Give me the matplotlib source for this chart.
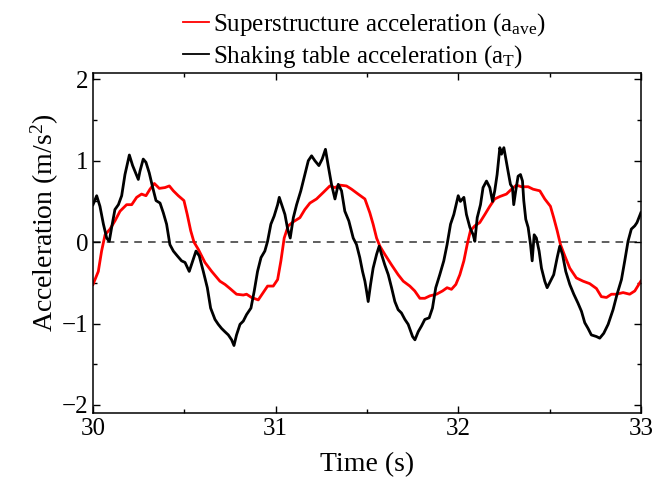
import matplotlib

matplotlib.use("Agg")
import matplotlib.pyplot as plt
from matplotlib.ticker import MultipleLocator

plt.rcParams["font.family"] = ["Liberation Serif", "DejaVu Serif"]
plt.rcParams["mathtext.fontset"] = "custom"
plt.rcParams["mathtext.rm"] = "Liberation Serif"
plt.rcParams["mathtext.it"] = "Liberation Serif:italic"

# superstructure acceleration (red)
t_ave = [
    30.000, 30.029, 30.047, 30.066, 30.093, 30.120, 30.148, 30.184, 30.212, 30.239,
    30.266, 30.290, 30.312, 30.336, 30.363, 30.394, 30.418, 30.440, 30.467, 30.498,
    30.516, 30.535, 30.553, 30.577, 30.613, 30.650, 30.695, 30.723, 30.750, 30.786,
    30.823, 30.841, 30.868, 30.905, 30.932, 30.956, 30.987, 31.011, 31.029, 31.047,
    31.069, 31.097, 31.133, 31.160, 31.188, 31.224, 31.261, 31.297, 31.325, 31.352,
    31.388, 31.416, 31.452, 31.489, 31.516, 31.534, 31.553, 31.571, 31.598, 31.635,
    31.671, 31.699, 31.735, 31.762, 31.790, 31.817, 31.845, 31.881, 31.914, 31.939,
    31.963, 31.987, 32.009, 32.031, 32.049, 32.067, 32.091, 32.118, 32.146, 32.173,
    32.200, 32.228, 32.264, 32.292, 32.319, 32.346, 32.383, 32.410, 32.447, 32.474,
    32.505, 32.523, 32.542, 32.560, 32.584, 32.611, 32.647, 32.684, 32.720, 32.757,
    32.784, 32.812, 32.839, 32.866, 32.903, 32.939, 32.967, 33.000,
]
a_ave = [
    -0.52, -0.36, -0.11, 0.09, 0.16, 0.26, 0.38, 0.46, 0.46, 0.55,
    0.59, 0.57, 0.65, 0.72, 0.66, 0.67, 0.69, 0.63, 0.57, 0.51,
    0.34, 0.14, 0.00, -0.09, -0.25, -0.36, -0.48, -0.52, -0.57, -0.64,
    -0.65, -0.64, -0.68, -0.71, -0.62, -0.54, -0.54, -0.46, -0.23, 0.05,
    0.20, 0.25, 0.30, 0.40, 0.48, 0.53, 0.61, 0.69, 0.67, 0.70,
    0.69, 0.65, 0.59, 0.53, 0.36, 0.22, 0.05, -0.05, -0.15, -0.28,
    -0.40, -0.48, -0.54, -0.60, -0.69, -0.69, -0.66, -0.64, -0.60, -0.56,
    -0.58, -0.52, -0.40, -0.23, -0.03, 0.14, 0.20, 0.24, 0.34, 0.44,
    0.53, 0.56, 0.59, 0.65, 0.70, 0.68, 0.68, 0.65, 0.63, 0.53,
    0.44, 0.30, 0.14, -0.03, -0.17, -0.32, -0.44, -0.48, -0.51, -0.57,
    -0.67, -0.68, -0.64, -0.64, -0.62, -0.64, -0.60, -0.48,
]

# shaking table acceleration (black)
t_T = [
    30.000, 30.020, 30.038, 30.057, 30.075, 30.089, 30.102, 30.120, 30.139, 30.157,
    30.175, 30.199, 30.217, 30.230, 30.248, 30.257, 30.275, 30.290, 30.308, 30.327,
    30.345, 30.367, 30.385, 30.403, 30.421, 30.440, 30.462, 30.485, 30.504, 30.527,
    30.546, 30.564, 30.582, 30.604, 30.626, 30.644, 30.668, 30.686, 30.704, 30.722,
    30.741, 30.759, 30.772, 30.786, 30.805, 30.823, 30.841, 30.865, 30.883, 30.901,
    30.920, 30.941, 30.956, 30.974, 30.992, 31.011, 31.020, 31.036, 31.051, 31.066,
    31.080, 31.097, 31.115, 31.138, 31.160, 31.179, 31.197, 31.215, 31.237, 31.255,
    31.273, 31.288, 31.306, 31.325, 31.343, 31.361, 31.379, 31.401, 31.425, 31.443,
    31.461, 31.476, 31.489, 31.498, 31.507, 31.520, 31.534, 31.553, 31.567, 31.580,
    31.598, 31.617, 31.635, 31.653, 31.671, 31.689, 31.708, 31.726, 31.750, 31.763,
    31.781, 31.799, 31.817, 31.841, 31.859, 31.877, 31.899, 31.921, 31.939, 31.958,
    31.976, 32.000, 32.012, 32.031, 32.045, 32.064, 32.082, 32.091, 32.104, 32.122,
    32.136, 32.155, 32.173, 32.188, 32.200, 32.213, 32.228, 32.237, 32.250, 32.261,
    32.273, 32.286, 32.297, 32.304, 32.315, 32.328, 32.341, 32.352, 32.359, 32.370,
    32.383, 32.396, 32.405, 32.416, 32.428, 32.443, 32.456, 32.474, 32.487, 32.505,
    32.523, 32.542, 32.556, 32.571, 32.589, 32.611, 32.633, 32.656, 32.675, 32.693,
    32.711, 32.729, 32.757, 32.775, 32.797, 32.821, 32.848, 32.870, 32.894, 32.912,
    32.930, 32.948, 32.967, 32.979, 33.000,
]
a_T = [
    0.46, 0.57, 0.44, 0.22, 0.05, 0.01, 0.18, 0.40, 0.46, 0.57,
    0.83, 1.07, 0.94, 0.87, 0.77, 0.87, 1.02, 0.98, 0.85, 0.67,
    0.51, 0.48, 0.36, 0.22, -0.03, -0.11, -0.17, -0.23, -0.25, -0.36,
    -0.23, -0.11, -0.17, -0.36, -0.56, -0.81, -0.95, -1.01, -1.06, -1.10,
    -1.14, -1.20, -1.27, -1.14, -1.01, -0.97, -0.89, -0.81, -0.60, -0.36,
    -0.19, -0.11, 0.01, 0.22, 0.32, 0.46, 0.55, 0.44, 0.34, 0.16,
    0.05, 0.30, 0.46, 0.63, 0.83, 1.00, 1.06, 1.00, 0.94, 1.02,
    1.14, 0.94, 0.71, 0.53, 0.71, 0.63, 0.38, 0.26, 0.05, -0.03,
    -0.19, -0.36, -0.48, -0.60, -0.73, -0.52, -0.32, -0.15, -0.05, -0.15,
    -0.28, -0.40, -0.56, -0.73, -0.83, -0.87, -0.95, -1.01, -1.16, -1.20,
    -1.10, -1.03, -0.95, -0.93, -0.81, -0.56, -0.40, -0.23, -0.03, 0.22,
    0.34, 0.57, 0.50, 0.55, 0.34, 0.18, 0.09, 0.01, 0.30, 0.46,
    0.67, 0.75, 0.67, 0.50, 0.63, 0.83, 1.16, 1.08, 1.16, 1.02,
    0.87, 0.71, 0.67, 0.46, 0.63, 0.81, 0.83, 0.75, 0.51, 0.28,
    0.18, -0.03, -0.23, 0.09, 0.05, -0.11, -0.32, -0.48, -0.56, -0.48,
    -0.40, -0.19, -0.05, -0.15, -0.36, -0.52, -0.64, -0.75, -0.85, -0.99,
    -1.06, -1.14, -1.16, -1.18, -1.12, -1.01, -0.83, -0.64, -0.46, -0.23,
    0.01, 0.16, 0.20, 0.24, 0.36,
]

fig = plt.figure(figsize=(6.62, 4.82), dpi=100)
ax = fig.add_axes([0.1405, 0.143, 0.8275, 0.706])

ax.plot(t_ave, a_ave, color="#ff0000", lw=2.0, label=r"Superstructure acceleration ($\mathrm{a_{ave}}$)")
ax.plot(t_T, a_T, color="black", lw=2.0, label=r"Shaking table acceleration ($\mathrm{a_{T}}$)")
ax.axhline(0, color="0.2", lw=1.1, ls=(0, (5, 4)), zorder=0)

ax.set_xlim(30, 33)
ax.set_ylim(-2.1, 2.08)
ax.xaxis.set_major_locator(MultipleLocator(1))
ax.xaxis.set_minor_locator(MultipleLocator(0.5))
ax.yaxis.set_major_locator(MultipleLocator(1))
ax.yaxis.set_minor_locator(MultipleLocator(0.5))
ax.tick_params(which="both", direction="in", top=True, right=True, labelsize=18, width=1.0)
ax.tick_params(which="major", length=5)
ax.tick_params(which="minor", length=3)
for s in ax.spines.values():
    s.set_linewidth(1.1)

ax.set_xlabel("Time (s)", fontsize=20, labelpad=9)
ax.set_ylabel(r"Acceleration (m/s$^2$)", fontsize=20)
ax.yaxis.set_label_coords(-0.058, 0.56)

leg = ax.legend(
    loc="lower center",
    bbox_to_anchor=(0.495, 1.0),
    frameon=False,
    fontsize=18,
    handlelength=1.07,
    handletextpad=0.15,
    labelspacing=0.2,
    borderaxespad=0.0,
    borderpad=0.1,
)
for line in leg.get_lines():
    line.set_linewidth(1.3)

fig.savefig("out.png", dpi=100)
